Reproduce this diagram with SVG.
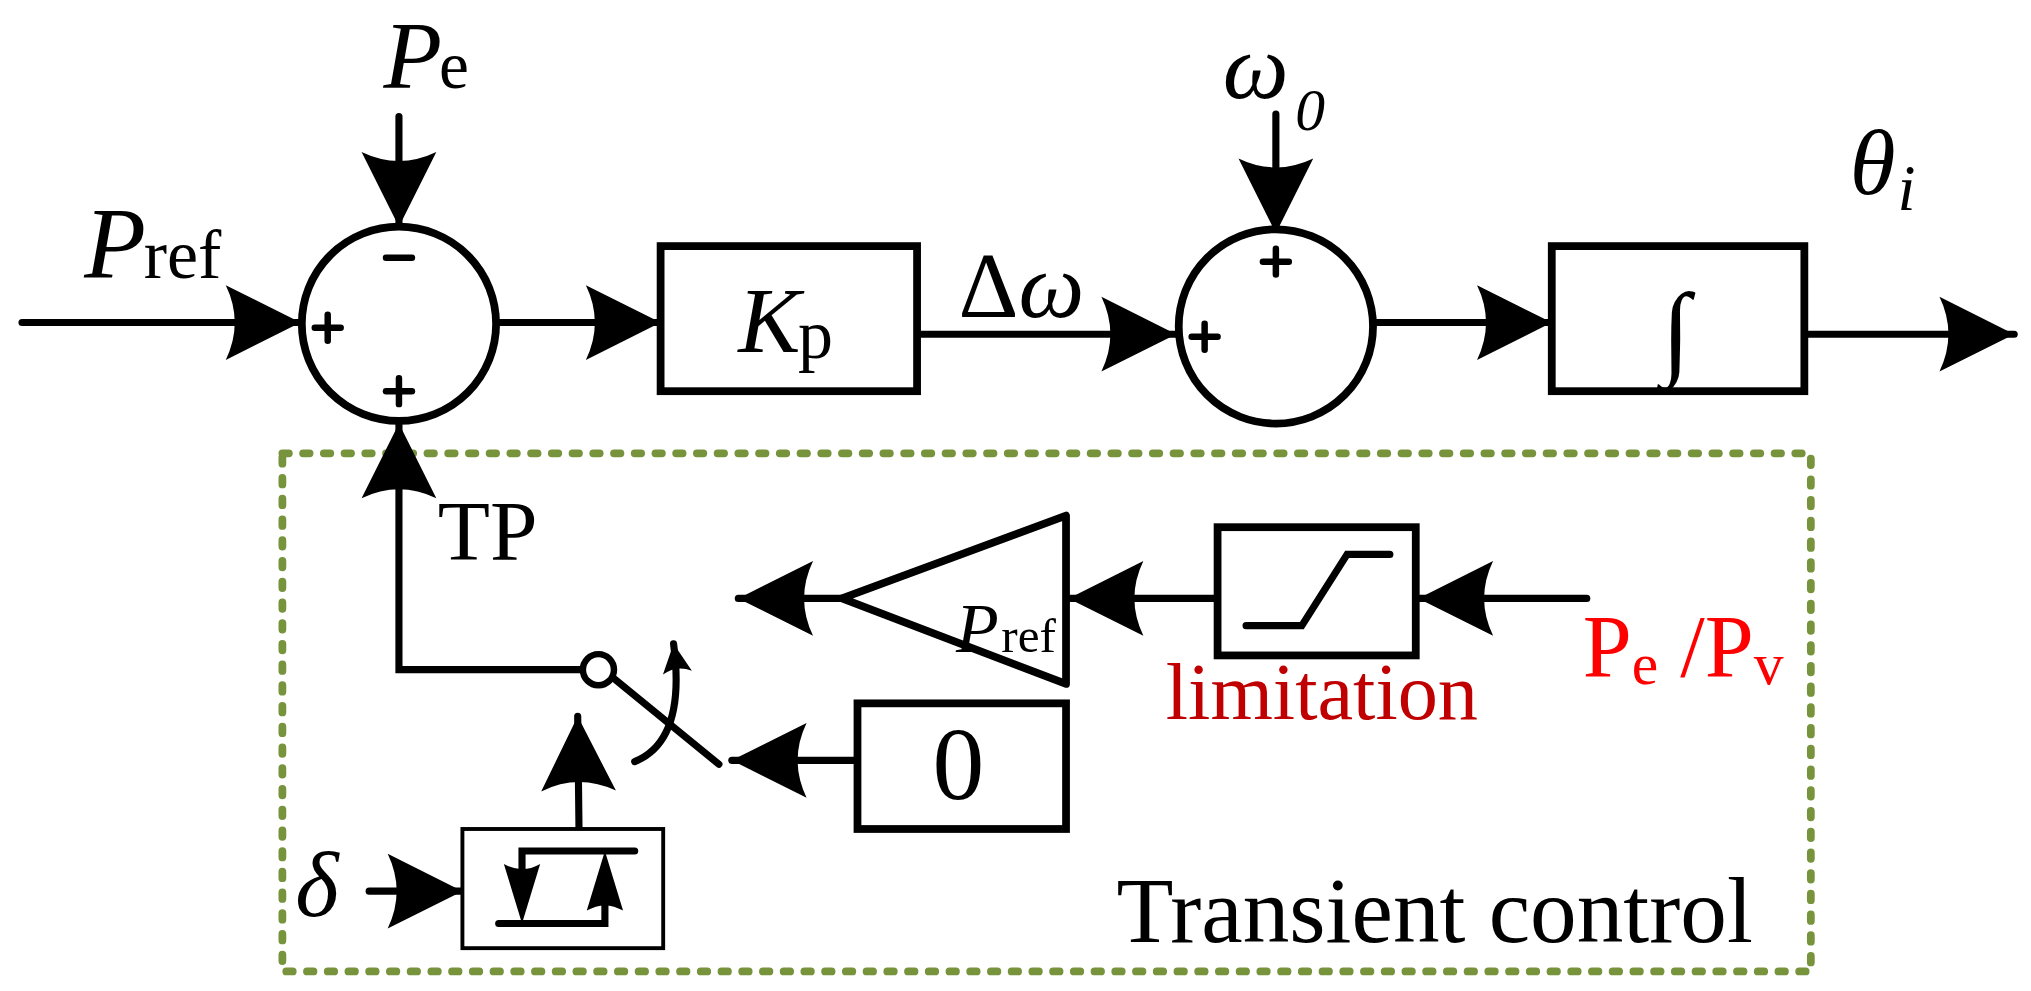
<svg xmlns="http://www.w3.org/2000/svg" width="2031" height="991" viewBox="0 0 2031 991">
<defs>
<marker id="ah" markerUnits="userSpaceOnUse" markerWidth="60" markerHeight="60" viewBox="-50 -25 52 50" refX="0" refY="0" orient="auto" overflow="visible">
<path d="M0,0 L-50,-25 Q-38,0 -50,25 Z" fill="#000"/>
</marker>
<marker id="ahs" markerUnits="userSpaceOnUse" markerWidth="30" markerHeight="30" viewBox="-20 -12 22 24" refX="0" refY="0" orient="auto" overflow="visible">
<path d="M0,0 L-18,-9 Q-13,0 -18,9 Z" fill="#000"/>
</marker>
</defs>
<style>
.ln{stroke:#000;stroke-width:5.5;fill:none;stroke-linecap:round}
.bx{stroke:#000;stroke-width:6;fill:#fff}
.t{font-family:"Liberation Serif",serif;fill:#000}
.i{font-style:italic}
.sg{stroke:#000;stroke-width:5;stroke-linecap:round}
</style>
<rect width="2031" height="991" fill="#fff"/>
<g transform="scale(1.2953)">
<g id="transient-frame">
<rect x="218" y="350" width="1180" height="400" fill="none" stroke="#77933C" stroke-width="6" stroke-dasharray="5 11" stroke-linecap="round"/>
<text class="t" x="862" y="727" font-size="72">Transient control</text>
</g>
<g id="connectors">
<line class="ln" x1="17" y1="249" x2="232" y2="249" marker-end="url(#ah)"/>
<line class="ln" x1="308" y1="90" x2="308" y2="175" marker-end="url(#ah)"/>
<line class="ln" x1="383" y1="249" x2="510" y2="249" marker-end="url(#ah)"/>
<line class="ln" x1="708" y1="258" x2="908" y2="258" marker-end="url(#ah)"/>
<line class="ln" x1="985" y1="88" x2="985" y2="180" marker-end="url(#ah)"/>
<line class="ln" x1="1061" y1="249" x2="1198" y2="249" marker-end="url(#ah)"/>
<line class="ln" x1="1393" y1="258" x2="1555" y2="258" marker-end="url(#ah)"/>
<polyline class="ln" points="450,517 308,517 308,327" marker-end="url(#ah)"/>
<line class="ln" x1="650" y1="462" x2="570" y2="462" marker-end="url(#ah)"/>
<line class="ln" x1="940" y1="462" x2="825" y2="462" marker-end="url(#ah)"/>
<line class="ln" x1="1225" y1="462" x2="1095" y2="462" marker-end="url(#ah)"/>
<line class="ln" x1="662" y1="587" x2="565" y2="587" marker-end="url(#ah)"/>
<line class="ln" x1="447" y1="640" x2="446" y2="553" marker-end="url(#ah)"/>
<line class="ln" x1="285" y1="688" x2="357" y2="688" marker-end="url(#ah)"/>
</g>
<g id="sum1">
<circle cx="308" cy="250" r="75" fill="#fff" stroke="#000" stroke-width="6"/>
<line class="sg" x1="298" y1="199" x2="318" y2="199"/>
<line class="sg" x1="243" y1="253" x2="263" y2="253"/><line class="sg" x1="253" y1="243" x2="253" y2="263"/>
<line class="sg" x1="298" y1="302" x2="318" y2="302"/><line class="sg" x1="308" y1="292" x2="308" y2="312"/>
<text class="t i" x="296" y="68" font-size="74">P</text><text class="t" x="339" y="68" font-size="52">e</text>
<text class="t i" x="65" y="215" font-size="78">P</text><text class="t" x="111" y="215" font-size="54">ref</text>
</g>
<g id="kp">
<rect class="bx" x="510" y="190" width="198" height="112"/>
<text class="t i" x="570" y="272" font-size="72">K</text><text class="t" x="616" y="276" font-size="54">p</text>
<text class="t" x="740" y="245" font-size="72">Δ<tspan class="i">ω</tspan></text>
</g>
<g id="sum2">
<circle cx="985" cy="252" r="75" fill="#fff" stroke="#000" stroke-width="6"/>
<line class="sg" x1="975" y1="202" x2="995" y2="202"/><line class="sg" x1="985" y1="192" x2="985" y2="212"/>
<line class="sg" x1="920" y1="260" x2="940" y2="260"/><line class="sg" x1="930" y1="250" x2="930" y2="270"/>
<text class="t i" x="944" y="76" font-size="72">ω</text><text class="t i" x="1000" y="100" font-size="46">0</text>
</g>
<g id="integrator">
<rect class="bx" x="1198" y="190" width="195" height="112"/>
<text class="t" x="1283" y="282" font-size="80">∫</text>
<text class="t i" x="1428" y="150" font-size="72">θ</text><text class="t i" x="1465" y="162" font-size="50">i</text>
</g>
<g id="gain-pref">
<polygon points="650,462 823,398 823,528" fill="#fff" stroke="#000" stroke-width="6" stroke-linejoin="round"/>
<text class="t i" x="738" y="503" font-size="54">P</text><text class="t" x="773" y="503" font-size="38">ref</text>
</g>
<g id="limitation">
<rect class="bx" x="940" y="407" width="153" height="99"/>
<polyline class="ln" points="962,483 1005,483 1040,428 1073,428"/>
<text class="t" x="900" y="555" font-size="62" style="fill:#C00000">limitation</text>
<text class="t" x="1222" y="522" font-size="68" style="fill:#FF0000">P<tspan font-size="46" dy="6">e</tspan><tspan dy="-6"> /P</tspan><tspan font-size="46" dy="6">v</tspan></text>
</g>
<g id="zero">
<rect class="bx" x="662" y="543" width="161" height="97"/>
<text class="t" x="720" y="617" font-size="80">0</text>
</g>
<g id="switch">
<text class="t" x="338" y="432" font-size="66">TP</text>
<circle cx="462" cy="517" r="12" fill="#fff" stroke="#000" stroke-width="5"/>
<line class="ln" x1="473" y1="523" x2="555" y2="590"/>
<path class="ln" d="M490,588 Q530,572 520,497" marker-end="url(#ahs)"/>
</g>
<g id="hysteresis">
<rect x="357" y="640" width="155" height="92" fill="#fff" stroke="#000" stroke-width="3"/>
<polyline class="ln" points="490,657 403,657 403,700" stroke-width="3"/>
<path d="M403,713 L389,667 Q403,675 417,667 Z"/>
<polyline class="ln" points="385,713 467,713 467,670" stroke-width="3"/>
<path d="M467,657 L453,703 Q467,695 481,703 Z"/>
<text class="t i" x="228" y="707" font-size="72">δ</text>
</g>
</g>
</svg>
